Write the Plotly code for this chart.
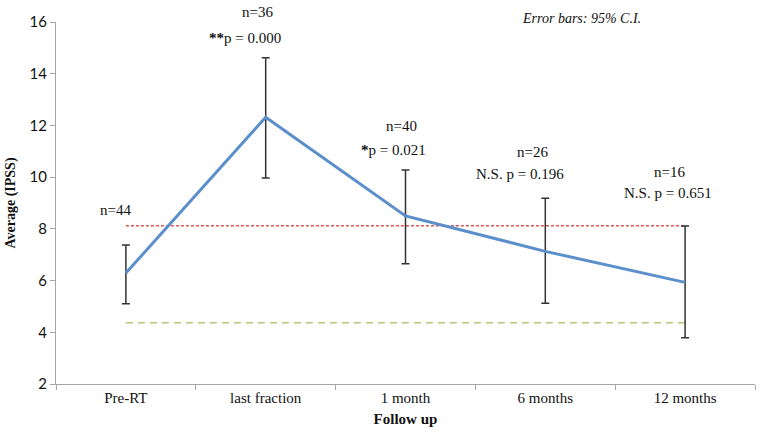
import plotly.graph_objects as go

categories = ["Pre-RT", "last fraction", "1 month", "6 months", "12 months"]
means = [6.29, 12.32, 8.5, 7.13, 5.93]
ci_upper = [7.38, 14.62, 10.28, 9.18, 8.11]
ci_lower = [5.10, 9.97, 6.65, 5.12, 3.79]
n_labels = ["n=44", "n=36", "n=40", "n=26", "n=16"]
p_labels = [None, "<b>**</b>p = 0.000", "<b>*</b>p = 0.021", "N.S. p = 0.196", "N.S. p = 0.651"]
red_ref = 8.12
green_ref = 4.37
y_ticks = [2, 4, 6, 8, 10, 12, 14, 16]

err_plus = [u - m for u, m in zip(ci_upper, means)]
err_minus = [m - l for l, m in zip(ci_lower, means)]

fig = go.Figure()

# reference lines
fig.add_trace(go.Scatter(x=[categories[0], categories[-1]], y=[red_ref, red_ref], mode="lines",
                         line=dict(color="#d8564f", width=1.3, dash="3px,2px"), showlegend=False, hoverinfo="skip"))
fig.add_trace(go.Scatter(x=[categories[0], categories[-1]], y=[green_ref, green_ref], mode="lines",
                         line=dict(color="#b5c97a", width=1.5, dash="7px,5px"), showlegend=False, hoverinfo="skip"))
fig.add_trace(go.Scatter(
    x=categories, y=means, mode="lines",
    line=dict(color="#5b8fcb", width=3),
    error_y=dict(type="data", symmetric=False, array=err_plus, arrayminus=err_minus,
                 color="#333333", thickness=1.5, width=4),
    showlegend=False,
))

serif = "Liberation Serif"
PLOT_TOP, PLOT_BOT = 22, 384


def py_to_paper(py):
    return (PLOT_BOT - py) / (PLOT_BOT - PLOT_TOP)


ann = []
n_pos = [(-10, 210), (-8, 12), (-4, 126), (-13, 152), (-16, 172)]
p_pos = [None, (-21, 38), (-12, 150), (-25, 174), (-17, 193)]
for i, c in enumerate(categories):
    xs, py = n_pos[i]
    ann.append(dict(x=c, y=py_to_paper(py), xshift=xs, text=n_labels[i], showarrow=False, xref="x", yref="paper",
                    xanchor="center", yanchor="middle",
                    font=dict(family=serif, size=15, color="#111")))
    if p_labels[i]:
        xs, py = p_pos[i]
        ann.append(dict(x=c, y=py_to_paper(py), xshift=xs, text=p_labels[i], showarrow=False, xref="x", yref="paper",
                        xanchor="center", yanchor="middle",
                        font=dict(family=serif, size=15, color="#111")))
ann.append(dict(x=(581 - 56) / 699, y=py_to_paper(19), xref="paper", yref="paper", text="<i>Error bars: 95% C.I.</i>",
                xanchor="center", yanchor="middle",
                showarrow=False, font=dict(family=serif, size=14, color="#111")))

fig.update_layout(
    width=762, height=441,
    margin=dict(l=56, r=7, t=22, b=57, autoexpand=False),
    paper_bgcolor="white", plot_bgcolor="white",
    annotations=ann,
    xaxis=dict(
        categoryorder="array", categoryarray=categories, automargin=False,
        range=[-0.5, 4.5], showline=True, linecolor="#a6a6a6", linewidth=1,
        tickson="boundaries", ticks="outside", ticklen=5, tickcolor="#a6a6a6",
        showgrid=False, zeroline=False,
        tickfont=dict(family=serif, size=15, color="#111"),
        title=dict(text="<b>Follow up</b>", font=dict(family=serif, size=15, color="#111"), standoff=8),
    ),
    yaxis=dict(
        range=[2, 16], tickvals=y_ticks, showline=True, linecolor="#a6a6a6", linewidth=1, automargin=False,
        ticks="outside", ticklen=5, tickcolor="#a6a6a6", showgrid=False, zeroline=False,
        tickfont=dict(family="Lato", size=15, color="#111"),
        title=dict(text="<b>Average (IPSS)</b>", font=dict(family=serif, size=14, color="#111"), standoff=10),
    ),
)

fig.write_html("out.html", config={"displayModeBar": False},
               post_script="document.body.style.margin='0';")
